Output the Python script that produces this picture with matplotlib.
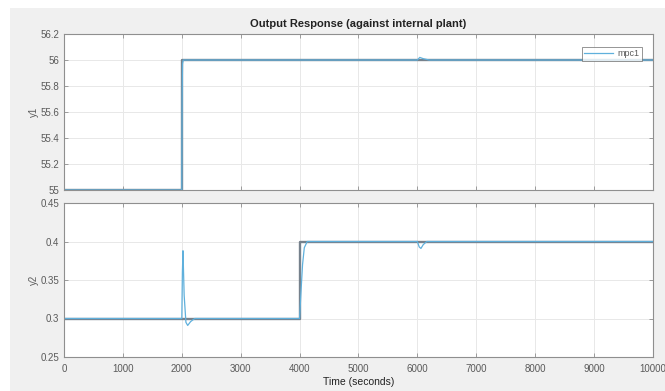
import matplotlib
matplotlib.use("Agg")
import matplotlib.pyplot as plt
from matplotlib.patches import Rectangle

# ---- data ----
ref1_t = [0, 2000, 2000, 10000]
ref1_y = [55.0, 55.0, 56.0, 56.0]
resp1_t = [0, 2000, 2005, 2012, 2025, 2100, 6000, 6040, 6100, 6200, 8000, 10000]
resp1_y = [55.0, 55.0, 55.7, 55.97, 56.0, 56.0, 56.0, 56.02, 56.01, 56.0, 56.0, 56.0]

ref2_t = [0, 4000, 4000, 10000]
ref2_y = [0.3, 0.3, 0.4, 0.4]
resp2_t = [0, 2000, 2010, 2020, 2040, 2070, 2100, 2150, 2220, 4000, 4020, 4050, 4080,
           4130, 6000, 6030, 6060, 6100, 6160, 10000]
resp2_y = [0.3, 0.3, 0.36, 0.388, 0.33, 0.295, 0.291, 0.296, 0.3, 0.3, 0.33, 0.37, 0.392,
           0.4, 0.4, 0.393, 0.391, 0.396, 0.4, 0.4]

xticks = list(range(0, 10001, 1000))
y1ticks = [55, 55.2, 55.4, 55.6, 55.8, 56, 56.2]
y1labels = ["55", "55.2", "55.4", "55.6", "55.8", "56", "56.2"]
y2ticks = [0.25, 0.3, 0.35, 0.4, 0.45]
y2labels = ["0.25", "0.3", "0.35", "0.4", "0.45"]

title = "Output Response (against internal plant)"
xlabel = "Time (seconds)"

plt.rcParams['font.family'] = ['Liberation Sans', 'DejaVu Sans']

W, H = 665, 391
fig = plt.figure(figsize=(W / 100, H / 100), dpi=100, facecolor='white')
fig.patches.append(Rectangle((10 / W, 0), 1 - 10 / W, (H - 8) / H,
                             transform=fig.transFigure, facecolor='#f0f0f0',
                             edgecolor='none', zorder=-10))

left = 64 / W
width = (653 - 64) / W
ax1 = fig.add_axes([left, (H - 190) / H, width, 156 / H])
ax2 = fig.add_axes([left, (H - 357) / H, width, 154 / H])

ref_color = '#76818c'
resp_color = '#5fb0dc'
tick_color = '#5a5a5a'
spine_color = '#8f8f8f'

for ax in (ax1, ax2):
    ax.set_facecolor('white')
    ax.set_xlim(0, 10000)
    ax.set_xticks(xticks)
    ax.grid(True, color='#e8e8e8', linewidth=0.7)
    ax.set_axisbelow(True)
    ax.tick_params(direction='in', length=3, width=0.6, colors=spine_color,
                   labelcolor=tick_color, labelsize=7, top=True, right=True)
    ax.tick_params(axis='x', pad=5)
    for s in ax.spines.values():
        s.set_color(spine_color)
        s.set_linewidth(0.8)

ax1.plot(ref1_t, ref1_y, color=ref_color, linewidth=1.7)
ax1.plot(resp1_t, resp1_y, color=resp_color, linewidth=0.9, label='mpc1')
ax1.set_ylim(55, 56.2)
ax1.set_yticks(y1ticks)
ax1.set_yticklabels(y1labels)
ax1.set_xticklabels([])
ax1.set_ylabel('y1', fontsize=7, color=tick_color, labelpad=1)
ax1.set_title(title, fontsize=8, fontweight='bold', color='#222222', pad=5)
leg = ax1.legend(loc='upper right', bbox_to_anchor=(578 / 589, 1 - 13 / 156),
                 fontsize=6.5, frameon=True, fancybox=False, handlelength=3.2,
                 borderpad=0.25, handletextpad=0.5, borderaxespad=0)
leg.get_frame().set_edgecolor('#666666')
leg.get_frame().set_linewidth(0.6)
for t in leg.get_texts():
    t.set_color(tick_color)

ax2.plot(ref2_t, ref2_y, color=ref_color, linewidth=1.7)
ax2.plot(resp2_t, resp2_y, color=resp_color, linewidth=0.9)
ax2.set_ylim(0.25, 0.45)
ax2.set_yticks(y2ticks)
ax2.set_yticklabels(y2labels)
ax2.set_ylabel('y2', fontsize=7, color=tick_color, labelpad=1)
ax2.set_xlabel(xlabel, fontsize=7.5, color='#222222', labelpad=2)

fig.savefig('out.png', dpi=100, facecolor=fig.get_facecolor())
